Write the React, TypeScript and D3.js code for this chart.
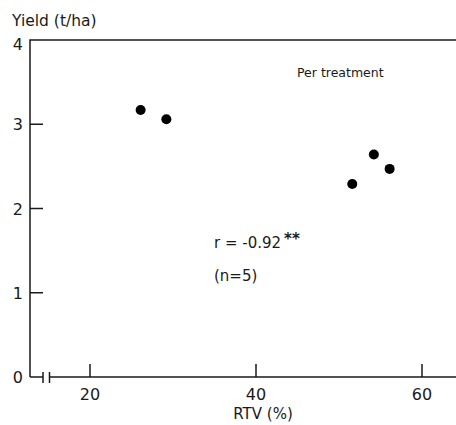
import React, { useRef, useEffect } from "react";
import * as d3 from "d3";

// RTV (%) vs yield (t/ha), per treatment
const rtv = [26.1, 29.2, 54.2, 56.1, 51.6];
const yieldVals = [3.17, 3.06, 2.64, 2.47, 2.29];
const xTicks = [20, 40, 60];
const yTicks = [0, 1, 2, 3, 4];

const W = 456;
const H = 425;
const INK = "#1a1a1a";
const FONT = "'DejaVu Sans', Verdana, sans-serif";

const App = () => {
  const svgRef = useRef<SVGSVGElement>(null);

  useEffect(() => {
    const svg = d3.select(svgRef.current);
    svg.selectAll("*").remove();

    const xScale = d3.scaleLinear().domain([20, 60]).range([90, 422]);
    const yScale = d3.scaleLinear().domain([0, 4]).range([377, 40]);
    const x0 = 30; // y-axis position
    const y0 = yScale(0);

    const g = svg.append("g").attr("stroke", INK).attr("stroke-width", 1.5).attr("fill", "none");

    // y axis + top frame line
    g.append("path").attr("d", `M${x0},${y0} V${yScale(4)} H${W}`);
    // x axis with break
    g.append("path").attr("d", `M${x0},${y0} H43 M43,${y0 - 5} V${y0 + 6} M49.5,${y0 - 5} V${y0 + 6} M49.5,${y0} H${W}`);

    // y ticks (inward)
    g.selectAll(".yt")
      .data(yTicks.filter((d) => d > 0 && d < 4))
      .enter()
      .append("line")
      .attr("x1", x0)
      .attr("x2", x0 + 13)
      .attr("y1", (d) => yScale(d))
      .attr("y2", (d) => yScale(d));

    // x ticks (inward)
    g.selectAll(".xt")
      .data(xTicks)
      .enter()
      .append("line")
      .attr("x1", (d) => xScale(d))
      .attr("x2", (d) => xScale(d))
      .attr("y1", y0)
      .attr("y2", y0 - 13);

    const txt = svg.append("g").attr("fill", INK).attr("font-family", FONT);

    txt.selectAll(".yl")
      .data(yTicks)
      .enter()
      .append("text")
      .attr("x", 23)
      .attr("y", (d) => yScale(d) + (d === 4 ? 10 : 6))
      .attr("text-anchor", "end")
      .attr("font-size", 16)
      .text((d) => d);

    txt.selectAll(".xl")
      .data(xTicks)
      .enter()
      .append("text")
      .attr("x", (d) => xScale(d))
      .attr("y", 400)
      .attr("text-anchor", "middle")
      .attr("font-size", 16)
      .text((d) => d);

    txt.append("text").attr("x", 263).attr("y", 419).attr("text-anchor", "middle")
      .attr("font-size", 15).text("RTV (%)");
    txt.append("text").attr("x", 12).attr("y", 26).attr("font-size", 15.5).text("Yield (t/ha)");
    txt.append("text").attr("x", 297).attr("y", 77).attr("font-size", 12.5).text("Per treatment");

    const r = txt.append("text").attr("x", 214).attr("y", 248).attr("font-size", 15);
    r.append("tspan").text("r = -0.92");
    r.append("tspan").attr("dy", -4).attr("dx", 3).attr("font-size", 15).attr("font-weight", "bold").text("**");
    txt.append("text").attr("x", 214).attr("y", 281).attr("font-size", 15).text("(n=5)");

    // points
    svg.append("g")
      .selectAll("circle")
      .data(rtv)
      .enter()
      .append("circle")
      .attr("r", 5)
      .attr("cx", (d) => xScale(d))
      .attr("cy", (d, i) => yScale(yieldVals[i]))
      .attr("fill", "#000");
  }, []);

  return (
    <div style={{ position: "absolute", left: 0, top: 0 }}>
      <svg ref={svgRef} width={W} height={H} style={{ display: "block", background: "#fff" }}></svg>
    </div>
  );
};

export default App;
